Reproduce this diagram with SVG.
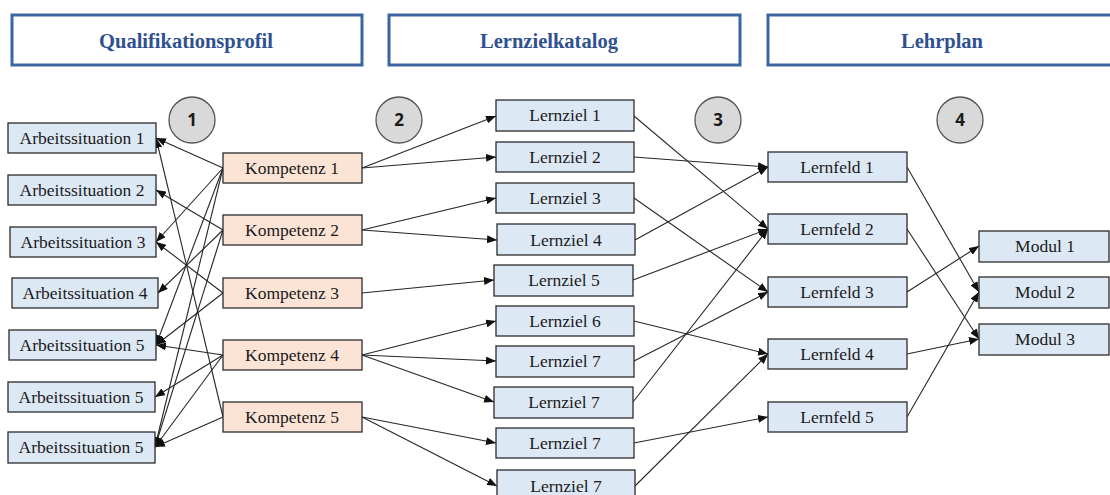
<svg xmlns="http://www.w3.org/2000/svg" width="1110" height="495" viewBox="0 0 1110 495">
  <style>
    .hdr { fill: #ffffff; stroke: #3d64a2; stroke-width: 3; }
    .hdr-t { font-family: "Liberation Serif", serif; font-weight: bold; font-size: 20.5px; fill: #2f5191; text-anchor: middle; }
    .blue { fill: #dde8f5; stroke: #2b2b2b; stroke-width: 1.3; }
    .peach { fill: #fbe4d5; stroke: #2b2b2b; stroke-width: 1.3; }
    .lbl { font-family: "Liberation Serif", serif; font-size: 17.5px; fill: #1a1a1a; text-anchor: middle; }
    .step { fill: #d9d9d9; stroke: #555555; stroke-width: 1.3; }
    .step-t { font-family: "Open Sans", "DejaVu Sans", sans-serif; font-weight: bold; font-size: 17px; fill: #1a1a1a; text-anchor: middle; }
    .edge { stroke: #262626; stroke-width: 1.1; fill: none; marker-end: url(#arr); }
  </style>
  <defs>
    <marker id="arr" markerUnits="userSpaceOnUse" markerWidth="10" markerHeight="8" refX="10" refY="4" orient="auto">
      <path d="M0,0 L10,4 L0,8 z" fill="#111111"/>
    </marker>
  </defs>
  <rect width="1110" height="495" fill="#ffffff"/>

  <!-- column headers -->
  <g id="hdr-qualifikationsprofil">
    <rect class="hdr" x="12" y="15" width="350" height="50"/>
    <text class="hdr-t" x="186" y="48">Qualifikationsprofil</text>
  </g>
  <g id="hdr-lernzielkatalog">
    <rect class="hdr" x="389" y="15" width="351" height="50"/>
    <text class="hdr-t" x="549" y="48">Lernzielkatalog</text>
  </g>
  <g id="hdr-lehrplan">
    <rect class="hdr" x="768" y="15" width="350" height="50"/>
    <text class="hdr-t" x="942" y="48">Lehrplan</text>
  </g>

  <!-- step markers -->
  <g id="step-1"><circle class="step" cx="192" cy="120" r="23"/><text class="step-t" x="192" y="126">1</text></g>
  <g id="step-2"><circle class="step" cx="399" cy="120" r="23"/><text class="step-t" x="399" y="126">2</text></g>
  <g id="step-3"><circle class="step" cx="718" cy="120" r="23"/><text class="step-t" x="718" y="126">3</text></g>
  <g id="step-4"><circle class="step" cx="960" cy="120" r="23"/><text class="step-t" x="960" y="126">4</text></g>

  <!-- connectors -->
  <g id="connectors">
    <!-- Kompetenz -> Arbeitssituation -->
    <line class="edge" x1="223" y1="168" x2="156" y2="138"/>
    <line class="edge" x1="223" y1="168" x2="156" y2="242"/>
    <line class="edge" x1="223" y1="168" x2="156" y2="345"/>
    <line class="edge" x1="223" y1="168" x2="155" y2="447"/>
    <line class="edge" x1="223" y1="230" x2="156" y2="190"/>
    <line class="edge" x1="223" y1="230" x2="158" y2="293"/>
    <line class="edge" x1="223" y1="230" x2="155" y2="447"/>
    <line class="edge" x1="223" y1="293" x2="156" y2="242"/>
    <line class="edge" x1="223" y1="293" x2="156" y2="345"/>
    <line class="edge" x1="223" y1="355" x2="156" y2="345"/>
    <line class="edge" x1="223" y1="355" x2="155" y2="397"/>
    <line class="edge" x1="223" y1="355" x2="155" y2="447"/>
    <line class="edge" x1="223" y1="417" x2="156" y2="138"/>
    <line class="edge" x1="223" y1="417" x2="155" y2="447"/>
    <!-- Kompetenz -> Lernziel -->
    <line class="edge" x1="362" y1="168" x2="496" y2="116"/>
    <line class="edge" x1="362" y1="168" x2="496" y2="157"/>
    <line class="edge" x1="362" y1="230" x2="496" y2="198"/>
    <line class="edge" x1="362" y1="230" x2="497" y2="240"/>
    <line class="edge" x1="362" y1="293" x2="494" y2="280"/>
    <line class="edge" x1="362" y1="355" x2="496" y2="321"/>
    <line class="edge" x1="362" y1="355" x2="496" y2="361"/>
    <line class="edge" x1="362" y1="355" x2="494" y2="402"/>
    <line class="edge" x1="362" y1="417" x2="496" y2="443"/>
    <line class="edge" x1="362" y1="417" x2="497" y2="486"/>
    <!-- Lernziel -> Lernfeld -->
    <line class="edge" x1="634" y1="116" x2="768" y2="229"/>
    <line class="edge" x1="634" y1="157" x2="768" y2="167"/>
    <line class="edge" x1="634" y1="198" x2="768" y2="292"/>
    <line class="edge" x1="635" y1="240" x2="768" y2="167"/>
    <line class="edge" x1="633" y1="280" x2="768" y2="229"/>
    <line class="edge" x1="634" y1="321" x2="768" y2="354"/>
    <line class="edge" x1="634" y1="361" x2="768" y2="292"/>
    <line class="edge" x1="633" y1="402" x2="768" y2="229"/>
    <line class="edge" x1="634" y1="443" x2="768" y2="417"/>
    <line class="edge" x1="635" y1="486" x2="768" y2="354"/>
    <!-- Lernfeld -> Modul -->
    <line class="edge" x1="907" y1="167" x2="979" y2="292"/>
    <line class="edge" x1="907" y1="229" x2="979" y2="339"/>
    <line class="edge" x1="907" y1="292" x2="979" y2="246"/>
    <line class="edge" x1="907" y1="354" x2="979" y2="339"/>
    <line class="edge" x1="907" y1="417" x2="979" y2="292"/>
  </g>

  <!-- Arbeitssituationen -->
  <g id="as-1"><rect class="blue" x="8" y="123" width="148" height="30"/><text class="lbl" x="82" y="144">Arbeitssituation 1</text></g>
  <g id="as-2"><rect class="blue" x="8" y="175" width="148" height="30"/><text class="lbl" x="82" y="196">Arbeitssituation 2</text></g>
  <g id="as-3"><rect class="blue" x="10" y="227" width="146" height="30"/><text class="lbl" x="83" y="248">Arbeitssituation 3</text></g>
  <g id="as-4"><rect class="blue" x="12" y="278" width="146" height="30"/><text class="lbl" x="85" y="299">Arbeitssituation 4</text></g>
  <g id="as-5a"><rect class="blue" x="9" y="330" width="147" height="30"/><text class="lbl" x="82" y="351">Arbeitssituation 5</text></g>
  <g id="as-5b"><rect class="blue" x="8" y="382" width="147" height="30"/><text class="lbl" x="81" y="403">Arbeitssituation 5</text></g>
  <g id="as-5c"><rect class="blue" x="8" y="432" width="147" height="31"/><text class="lbl" x="81" y="453">Arbeitssituation 5</text></g>

  <!-- Kompetenzen -->
  <g id="k-1"><rect class="peach" x="223" y="153" width="139" height="30"/><text class="lbl" x="292" y="174">Kompetenz 1</text></g>
  <g id="k-2"><rect class="peach" x="223" y="215" width="139" height="30"/><text class="lbl" x="292" y="236">Kompetenz 2</text></g>
  <g id="k-3"><rect class="peach" x="223" y="278" width="139" height="30"/><text class="lbl" x="292" y="299">Kompetenz 3</text></g>
  <g id="k-4"><rect class="peach" x="223" y="340" width="139" height="30"/><text class="lbl" x="292" y="361">Kompetenz 4</text></g>
  <g id="k-5"><rect class="peach" x="223" y="402" width="139" height="30"/><text class="lbl" x="292" y="423">Kompetenz 5</text></g>

  <!-- Lernziele -->
  <g id="lz-1"><rect class="blue" x="496" y="100" width="138" height="31"/><text class="lbl" x="565" y="121">Lernziel 1</text></g>
  <g id="lz-2"><rect class="blue" x="496" y="142" width="138" height="30"/><text class="lbl" x="565" y="163">Lernziel 2</text></g>
  <g id="lz-3"><rect class="blue" x="496" y="183" width="138" height="30"/><text class="lbl" x="565" y="204">Lernziel 3</text></g>
  <g id="lz-4"><rect class="blue" x="497" y="224" width="138" height="31"/><text class="lbl" x="566" y="246">Lernziel 4</text></g>
  <g id="lz-5"><rect class="blue" x="494" y="265" width="139" height="31"/><text class="lbl" x="564" y="286">Lernziel 5</text></g>
  <g id="lz-6"><rect class="blue" x="496" y="306" width="138" height="30"/><text class="lbl" x="565" y="327">Lernziel 6</text></g>
  <g id="lz-7a"><rect class="blue" x="496" y="346" width="138" height="31"/><text class="lbl" x="565" y="367">Lernziel 7</text></g>
  <g id="lz-7b"><rect class="blue" x="494" y="387" width="139" height="31"/><text class="lbl" x="564" y="408">Lernziel 7</text></g>
  <g id="lz-7c"><rect class="blue" x="496" y="428" width="138" height="30"/><text class="lbl" x="565" y="449">Lernziel 7</text></g>
  <g id="lz-7d"><rect class="blue" x="497" y="470" width="138" height="31"/><text class="lbl" x="566" y="492">Lernziel 7</text></g>

  <!-- Lernfelder -->
  <g id="lf-1"><rect class="blue" x="768" y="152" width="139" height="30"/><text class="lbl" x="837" y="173">Lernfeld 1</text></g>
  <g id="lf-2"><rect class="blue" x="768" y="214" width="139" height="30"/><text class="lbl" x="837" y="235">Lernfeld 2</text></g>
  <g id="lf-3"><rect class="blue" x="768" y="277" width="139" height="30"/><text class="lbl" x="837" y="298">Lernfeld 3</text></g>
  <g id="lf-4"><rect class="blue" x="768" y="339" width="139" height="30"/><text class="lbl" x="837" y="360">Lernfeld 4</text></g>
  <g id="lf-5"><rect class="blue" x="768" y="402" width="139" height="30"/><text class="lbl" x="837" y="423">Lernfeld 5</text></g>

  <!-- Module -->
  <g id="modul-1"><rect class="blue" x="979" y="231" width="130" height="31"/><text class="lbl" x="1045" y="252">Modul 1</text></g>
  <g id="modul-2"><rect class="blue" x="979" y="277" width="130" height="31"/><text class="lbl" x="1045" y="298">Modul 2</text></g>
  <g id="modul-3"><rect class="blue" x="979" y="324" width="130" height="31"/><text class="lbl" x="1045" y="345">Modul 3</text></g>
</svg>
